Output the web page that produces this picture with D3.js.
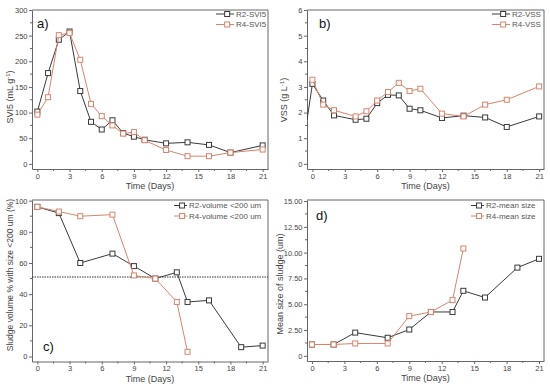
<!DOCTYPE html>
<html>
<head>
<meta charset="utf-8">
<script src="https://cdn.jsdelivr.net/npm/d3@7/dist/d3.min.js"></script>
<style>
  body { margin: 0; background: #fff; }
  svg { display: block; font-family: "Liberation Sans", Arial, sans-serif; }
</style>
</head>
<body>
<svg id="chart" width="550" height="386"></svg>
<script>
// a) SVI5
const svi5Days = [0, 1, 2, 3, 4, 5, 6, 7, 8, 9, 10, 12, 14, 16, 18, 21];
const svi5R2 = [102, 177, 242, 258, 142, 82, 67, 85, 60, 53, 47, 40, 42, 37, 22, 36];
const svi5R4 = [96, 130, 251, 255, 203, 117, 93, 75, 59, 62, 46, 27, 15, 15, 22, 28];
const svi5Ticks = [0, 50, 100, 150, 200, 250, 300];

// b) VSS
const vssR2Days = [-0.5, 0, 1, 2, 4, 5, 6, 7, 8, 9, 10, 12, 14, 16, 18, 21];
const vssR2 = [1.7, 3.12, 2.47, 1.89, 1.72, 1.76, 2.37, 2.69, 2.67, 2.15, 2.09, 1.79, 1.88, 1.81, 1.44, 1.85];
const vssR4Days = [0, 1, 2, 4, 5, 6, 7, 8, 9, 10, 12, 14, 16, 18, 21];
const vssR4 = [3.28, 2.31, 2.09, 1.85, 2.05, 2.47, 2.8, 3.16, 2.84, 2.93, 1.96, 1.85, 2.31, 2.5, 3.02];
const vssTicks = [0, 1, 2, 3, 4, 5, 6];

// c) volume < 200 um
const volR2Days = [0, 2, 4, 7, 9, 11, 13, 14, 16, 19, 21];
const volR2 = [96, 92, 60, 66, 58, 50, 54, 35, 36, 6, 7];
const volR4Days = [0, 2, 4, 7, 9, 11, 13, 14];
const volR4 = [96, 93, 90, 91, 52, 50, 35, 3];
const volTicks = [0, 20, 40, 60, 80, 100];
const volThreshold = 51;

// d) mean size
const sizeR2Days = [0, 2, 4, 7, 9, 11, 13, 14, 16, 19, 21];
const sizeR2 = [1.1, 1.1, 2.25, 1.75, 2.55, 4.25, 4.25, 6.3, 5.65, 8.55, 9.4];
const sizeR4Days = [0, 2, 4, 7, 9, 11, 13, 14];
const sizeR4 = [1.1, 1.1, 1.2, 1.2, 3.85, 4.25, 5.4, 10.4];
const sizeTicks = [0, 2.5, 5, 7.5, 10, 12.5, 15];
const sizeTickLabels = ["0", "2.50", "5.00", "7.50", "10.00", "12.50", "15.00"];

const dayTicks = [0, 3, 6, 9, 12, 15, 18, 21];

const dark = "#3a3a3a";
const red = "#d6846e";
const axisColor = "#666";

const svg = d3.select("#chart");

function panel(o) {
  const g = svg.append("g");
  const x = d3.scaleLinear().domain(o.xDomain).range([o.left, o.right]);
  const y = d3.scaleLinear().domain(o.yDomain).range([o.bottom, o.top]);

  // frame (top + right)
  g.append("path")
    .attr("d", `M${o.left},${o.top}H${o.right}V${o.bottom}`)
    .attr("fill", "none").attr("stroke", axisColor).attr("stroke-width", 1);

  // x axis
  const xAxis = g.append("g")
    .attr("transform", `translate(0,${o.bottom})`)
    .call(d3.axisBottom(x).tickValues(dayTicks).tickSize(3).tickSizeOuter(0));
  xAxis.append("g").selectAll("line")
    .data(d3.range(1.5, 21, 3))
    .join("line")
    .attr("x1", d => x(d)).attr("x2", d => x(d))
    .attr("y1", 0).attr("y2", 2);

  // y axis
  const yAxis = g.append("g")
    .attr("transform", `translate(${o.left},0)`)
    .call(d3.axisLeft(y).tickValues(o.yTicks).tickSize(3).tickSizeOuter(0)
      .tickFormat((d, i) => o.yLabels ? o.yLabels[i] : d));
  yAxis.append("g").selectAll("line")
    .data(o.yTicks.slice(1).map((d, i) => (d + o.yTicks[i]) / 2))
    .join("line")
    .attr("x1", 0).attr("x2", -2)
    .attr("y1", d => y(d)).attr("y2", d => y(d));

  [xAxis, yAxis].forEach(a => {
    a.select(".domain").attr("stroke", axisColor);
    a.selectAll("line").attr("stroke", axisColor);
    a.selectAll("text").attr("fill", "#444").style("font-size", "7.5px");
  });
  xAxis.selectAll(".tick text").attr("dy", "0.6em").attr("y", 5);
  yAxis.selectAll(".tick text").attr("x", -4.5);

  // axis titles
  g.append("text")
    .attr("x", (o.left + o.right) / 2).attr("y", o.bottom + 20)
    .attr("text-anchor", "middle").attr("fill", "#444")
    .style("font-size", "9px").text("Time (Days)");

  const yt = g.append("text")
    .attr("transform", `translate(${o.yTitleX},${o.yTitleY}) rotate(-90)`)
    .attr("text-anchor", "middle").attr("fill", "#444")
    .style("font-size", o.yTitleSize || "9px");
  o.yTitle(yt);

  // panel letter
  g.append("text")
    .attr("x", o.letterX).attr("y", o.letterY)
    .attr("fill", "#111").style("font-size", "13px")
    .text(o.letter);

  const clipId = "clip-" + o.letter.replace(")", "");
  g.append("clipPath").attr("id", clipId)
    .append("rect")
    .attr("x", o.left).attr("y", o.top)
    .attr("width", o.right - o.left).attr("height", o.bottom - o.top);

  const plot = g.append("g").attr("clip-path", `url(#${clipId})`);

  if (o.hline !== undefined) {
    plot.append("line")
      .attr("x1", o.left).attr("x2", o.right)
      .attr("y1", y(o.hline)).attr("y2", y(o.hline))
      .attr("stroke", "#333").attr("stroke-width", 1.1)
      .attr("stroke-dasharray", "1.5,1");
  }

  const line = d3.line().x(d => x(d[0])).y(d => y(d[1]));
  o.series.forEach(s => {
    const pts = s.days.map((d, i) => [d, s.values[i]]);
    plot.append("path")
      .datum(pts)
      .attr("fill", "none").attr("stroke", s.color).attr("stroke-width", 1)
      .attr("d", line);
    plot.selectAll(null)
      .data(pts.filter(p => p[0] >= 0))
      .join("rect")
      .attr("x", p => x(p[0]) - 2.5).attr("y", p => y(p[1]) - 2.5)
      .attr("width", 5).attr("height", 5)
      .attr("fill", "#fff").attr("stroke", s.color).attr("stroke-width", 1);
  });

  // legend
  o.series.forEach((s, i) => {
    const ly = o.legendY + i * 10.5;
    const lg = g.append("g");
    lg.append("line")
      .attr("x1", o.legendX).attr("x2", o.legendX + o.legendLen)
      .attr("y1", ly).attr("y2", ly)
      .attr("stroke", s.color).attr("stroke-width", 1);
    lg.append("rect")
      .attr("x", o.legendX + o.legendLen * 0.62 - 2.5).attr("y", ly - 2.5)
      .attr("width", 5).attr("height", 5)
      .attr("fill", "#fff").attr("stroke", s.color);
    lg.append("text")
      .attr("x", o.legendX + o.legendLen + 2).attr("y", ly)
      .attr("dy", "0.35em").attr("fill", "#555")
      .style("font-size", "8px").text(s.name);
  });
}

function supTitle(main, tail) {
  return t => {
    t.append("tspan").text(main);
    t.append("tspan").attr("baseline-shift", "super").style("font-size", "6px").text("-1");
    t.append("tspan").text(tail);
  };
}

panel({
  letter: "a)", letterX: 37, letterY: 28,
  left: 32, right: 268, top: 10, bottom: 169,
  xDomain: [-0.5, 21.5], yDomain: [-10, 300],
  yTicks: svi5Ticks,
  yTitle: supTitle("SVI5 (mL g", ")"), yTitleX: 13, yTitleY: 97,
  legendX: 216, legendLen: 18, legendY: 14,
  series: [
    { name: "R2-SVI5", days: svi5Days, values: svi5R2, color: dark },
    { name: "R4-SVI5", days: svi5Days, values: svi5R4, color: red }
  ]
});

panel({
  letter: "b)", letterX: 319, letterY: 28,
  left: 307, right: 544, top: 10, bottom: 169,
  xDomain: [-0.5, 21.45], yDomain: [-0.2, 6],
  yTicks: vssTicks,
  yTitle: supTitle("VSS (g L", ")"), yTitleX: 287, yTitleY: 100,
  legendX: 492, legendLen: 18, legendY: 14,
  series: [
    { name: "R2-VSS", days: vssR2Days, values: vssR2, color: dark },
    { name: "R4-VSS", days: vssR4Days, values: vssR4, color: red }
  ]
});

panel({
  letter: "c)", letterX: 43, letterY: 351,
  left: 32, right: 268, top: 200, bottom: 361.5,
  xDomain: [-0.5, 21.5], yDomain: [-3.2, 100.4],
  yTicks: volTicks, hline: volThreshold,
  yTitle: t => t.text("Sludge volume % with size <200 um (%)"),
  yTitleSize: "8.5px", yTitleX: 13, yTitleY: 275,
  legendX: 174, legendLen: 13, legendY: 205.5,
  series: [
    { name: "R2-volume <200 um", days: volR2Days, values: volR2, color: dark },
    { name: "R4-volume <200 um", days: volR4Days, values: volR4, color: red }
  ]
});

panel({
  letter: "d)", letterX: 316, letterY: 220,
  left: 307, right: 544, top: 200, bottom: 361,
  xDomain: [-0.46, 21.46], yDomain: [-0.5, 15.1],
  yTicks: sizeTicks, yLabels: sizeTickLabels,
  yTitle: t => t.text("Mean size of sludge (um)"),
  yTitleX: 283, yTitleY: 284,
  legendX: 471, legendLen: 13, legendY: 205.5,
  series: [
    { name: "R2-mean size", days: sizeR2Days, values: sizeR2, color: dark },
    { name: "R4-mean size", days: sizeR4Days, values: sizeR4, color: red }
  ]
});
</script>
</body>
</html>
